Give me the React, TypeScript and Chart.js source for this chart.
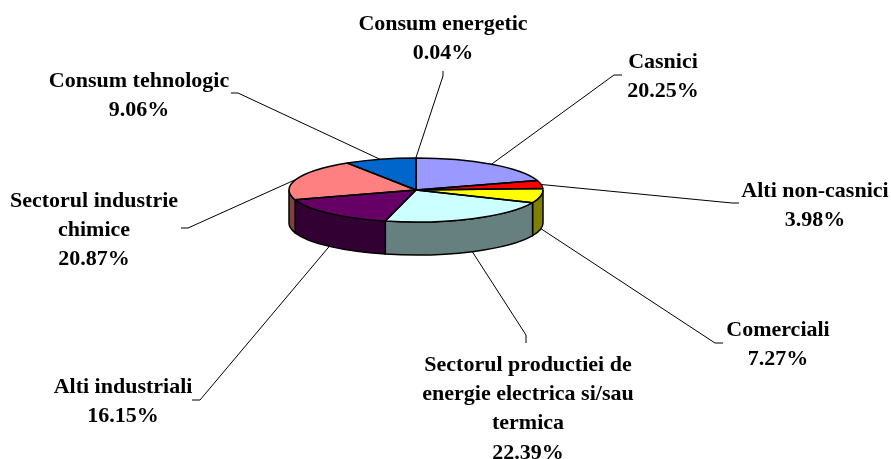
import React, { useEffect, useRef } from "react";
import { Chart, registerables } from "chart.js";

Chart.register(...registerables);

// ---- data, clockwise from twelve o'clock
const categories = [
  "Casnici",
  "Alti non-casnici",
  "Comerciali",
  "Sectorul productiei de energie electrica si/sau termica",
  "Alti industriali",
  "Sectorul industrie chimice",
  "Consum tehnologic",
  "Consum energetic",
];
const values = [20.25, 3.98, 7.27, 22.39, 16.15, 20.87, 9.06, 0.04];
const labelLines = [
  ["Casnici"],
  ["Alti non-casnici"],
  ["Comerciali"],
  ["Sectorul productiei de", "energie electrica si/sau", "termica"],
  ["Alti industriali"],
  ["Sectorul industrie", "chimice"],
  ["Consum tehnologic"],
  ["Consum energetic"],
];

// ---- styles
const topColors = ["#9999FF", "#FF0000", "#FFFF00", "#CCFFFF", "#660066", "#FF8080", "#0066CC", "#CCCCFF"];
const wallColors = ["#4D4D80", "#800000", "#808000", "#668080", "#330033", "#804040", "#003366", "#666680"];

// ---- layout
const W = 891;
const H = 459;
const CX = 416;
const CY = 190;
const RX = 127;
const SQUASH = 32 / 127;
const DEPTH = 33;
const FONT = 'bold 22px "Liberation Serif"';
const LINE_H = 29.2;
const labelAnchors = [
  [663, 68],
  [815, 197],
  [778, 336],
  [528, 371],
  [123, 393],
  [94, 207],
  [139, 87],
  [443, 30],
];
const leaderElbows = [
  [[614, 75], [622, 75]],
  [[732, 203], [739, 203]],
  [[715, 343], [723, 343]],
  [[526, 335], [526, 343]],
  [[200, 400], [192, 400]],
  [[188, 228], [181, 228]],
  [[238, 93], [231, 93]],
  [[443, 76], [443, 71]],
];

const pie3d = {
  id: "pie3d",
  beforeDatasetsDraw(chart: any) {
    const ctx = chart.ctx as CanvasRenderingContext2D;
    const arcs = chart.getDatasetMeta(0).data;
    ctx.save();
    arcs.forEach((arc: any, i: number) => {
      const a0 = Math.max(arc.startAngle, 0);
      const a1 = Math.min(arc.endAngle, Math.PI);
      if (a1 <= a0) return;
      const r = arc.outerRadius;
      ctx.beginPath();
      ctx.ellipse(arc.x, arc.y, r, r * SQUASH, 0, a0, a1);
      ctx.ellipse(arc.x, arc.y + DEPTH, r, r * SQUASH, 0, a1, a0, true);
      ctx.closePath();
      ctx.fillStyle = wallColors[i];
      ctx.fill();
      ctx.lineWidth = 1.5;
      ctx.strokeStyle = "#000";
      ctx.stroke();
    });
    ctx.restore();
    // squash the library's own arcs into the tilted top face
    ctx.save();
    ctx.translate(CX, CY);
    ctx.scale(1, SQUASH);
    ctx.translate(-CX, -CY);
  },
  afterDatasetsDraw(chart: any) {
    const ctx = chart.ctx as CanvasRenderingContext2D;
    ctx.restore();
    const arcs = chart.getDatasetMeta(0).data;

    // slice outlines with an even pen width
    ctx.save();
    ctx.strokeStyle = "#000";
    ctx.lineWidth = 1.5;
    ctx.lineJoin = "round";
    arcs.forEach((arc: any) => {
      const r = arc.outerRadius;
      ctx.beginPath();
      ctx.moveTo(arc.x, arc.y);
      ctx.ellipse(arc.x, arc.y, r, r * SQUASH, 0, arc.startAngle, arc.endAngle);
      ctx.closePath();
      ctx.stroke();
    });
    ctx.restore();

    // leader lines from each slice's mid angle, then the labels
    ctx.save();
    ctx.strokeStyle = "#000";
    ctx.lineWidth = 1;
    arcs.forEach((arc: any, i: number) => {
      const mid = (arc.startAngle + arc.endAngle) / 2;
      const r = arc.outerRadius;
      const sx = arc.x + Math.cos(mid) * r;
      const sy = arc.y + Math.sin(mid) * r * SQUASH + (Math.sin(mid) > 0 ? DEPTH : 0);
      ctx.beginPath();
      ctx.moveTo(sx, sy);
      leaderElbows[i].forEach((p) => ctx.lineTo(p[0], p[1]));
      ctx.stroke();
    });
    ctx.fillStyle = "#000";
    ctx.font = FONT;
    ctx.textAlign = "center";
    ctx.textBaseline = "alphabetic";
    values.forEach((v, i) => {
      const [x, y] = labelAnchors[i];
      const lines = [...labelLines[i], v.toFixed(2) + "%"];
      lines.forEach((t, k) => ctx.fillText(t, x, y + k * LINE_H));
    });
    ctx.restore();
  },
};

export default function App() {
  const ref = useRef<HTMLCanvasElement>(null);
  useEffect(() => {
    const chart = new Chart(ref.current as HTMLCanvasElement, {
      type: "pie",
      data: {
        labels: categories,
        datasets: [
          {
            data: values,
            backgroundColor: topColors,
            borderWidth: 0,
            clip: false,
          } as any,
        ],
      },
      options: {
        animation: false,
        responsive: false,
        events: [],
        layout: {
          padding: {
            left: CX - RX,
            right: W - CX - RX,
            top: CY - RX,
            bottom: H - CY - RX,
          },
        },
        plugins: {
          legend: { display: false },
          title: { display: false },
          tooltip: { enabled: false },
        },
      },
      plugins: [pie3d],
    });
    return () => chart.destroy();
  }, []);
  return (
    <div style={{ position: "fixed", left: 0, top: 0, width: W, height: H, background: "#fff" }}>
      <canvas ref={ref} width={W} height={H} style={{ display: "block" }} />
    </div>
  );
}
